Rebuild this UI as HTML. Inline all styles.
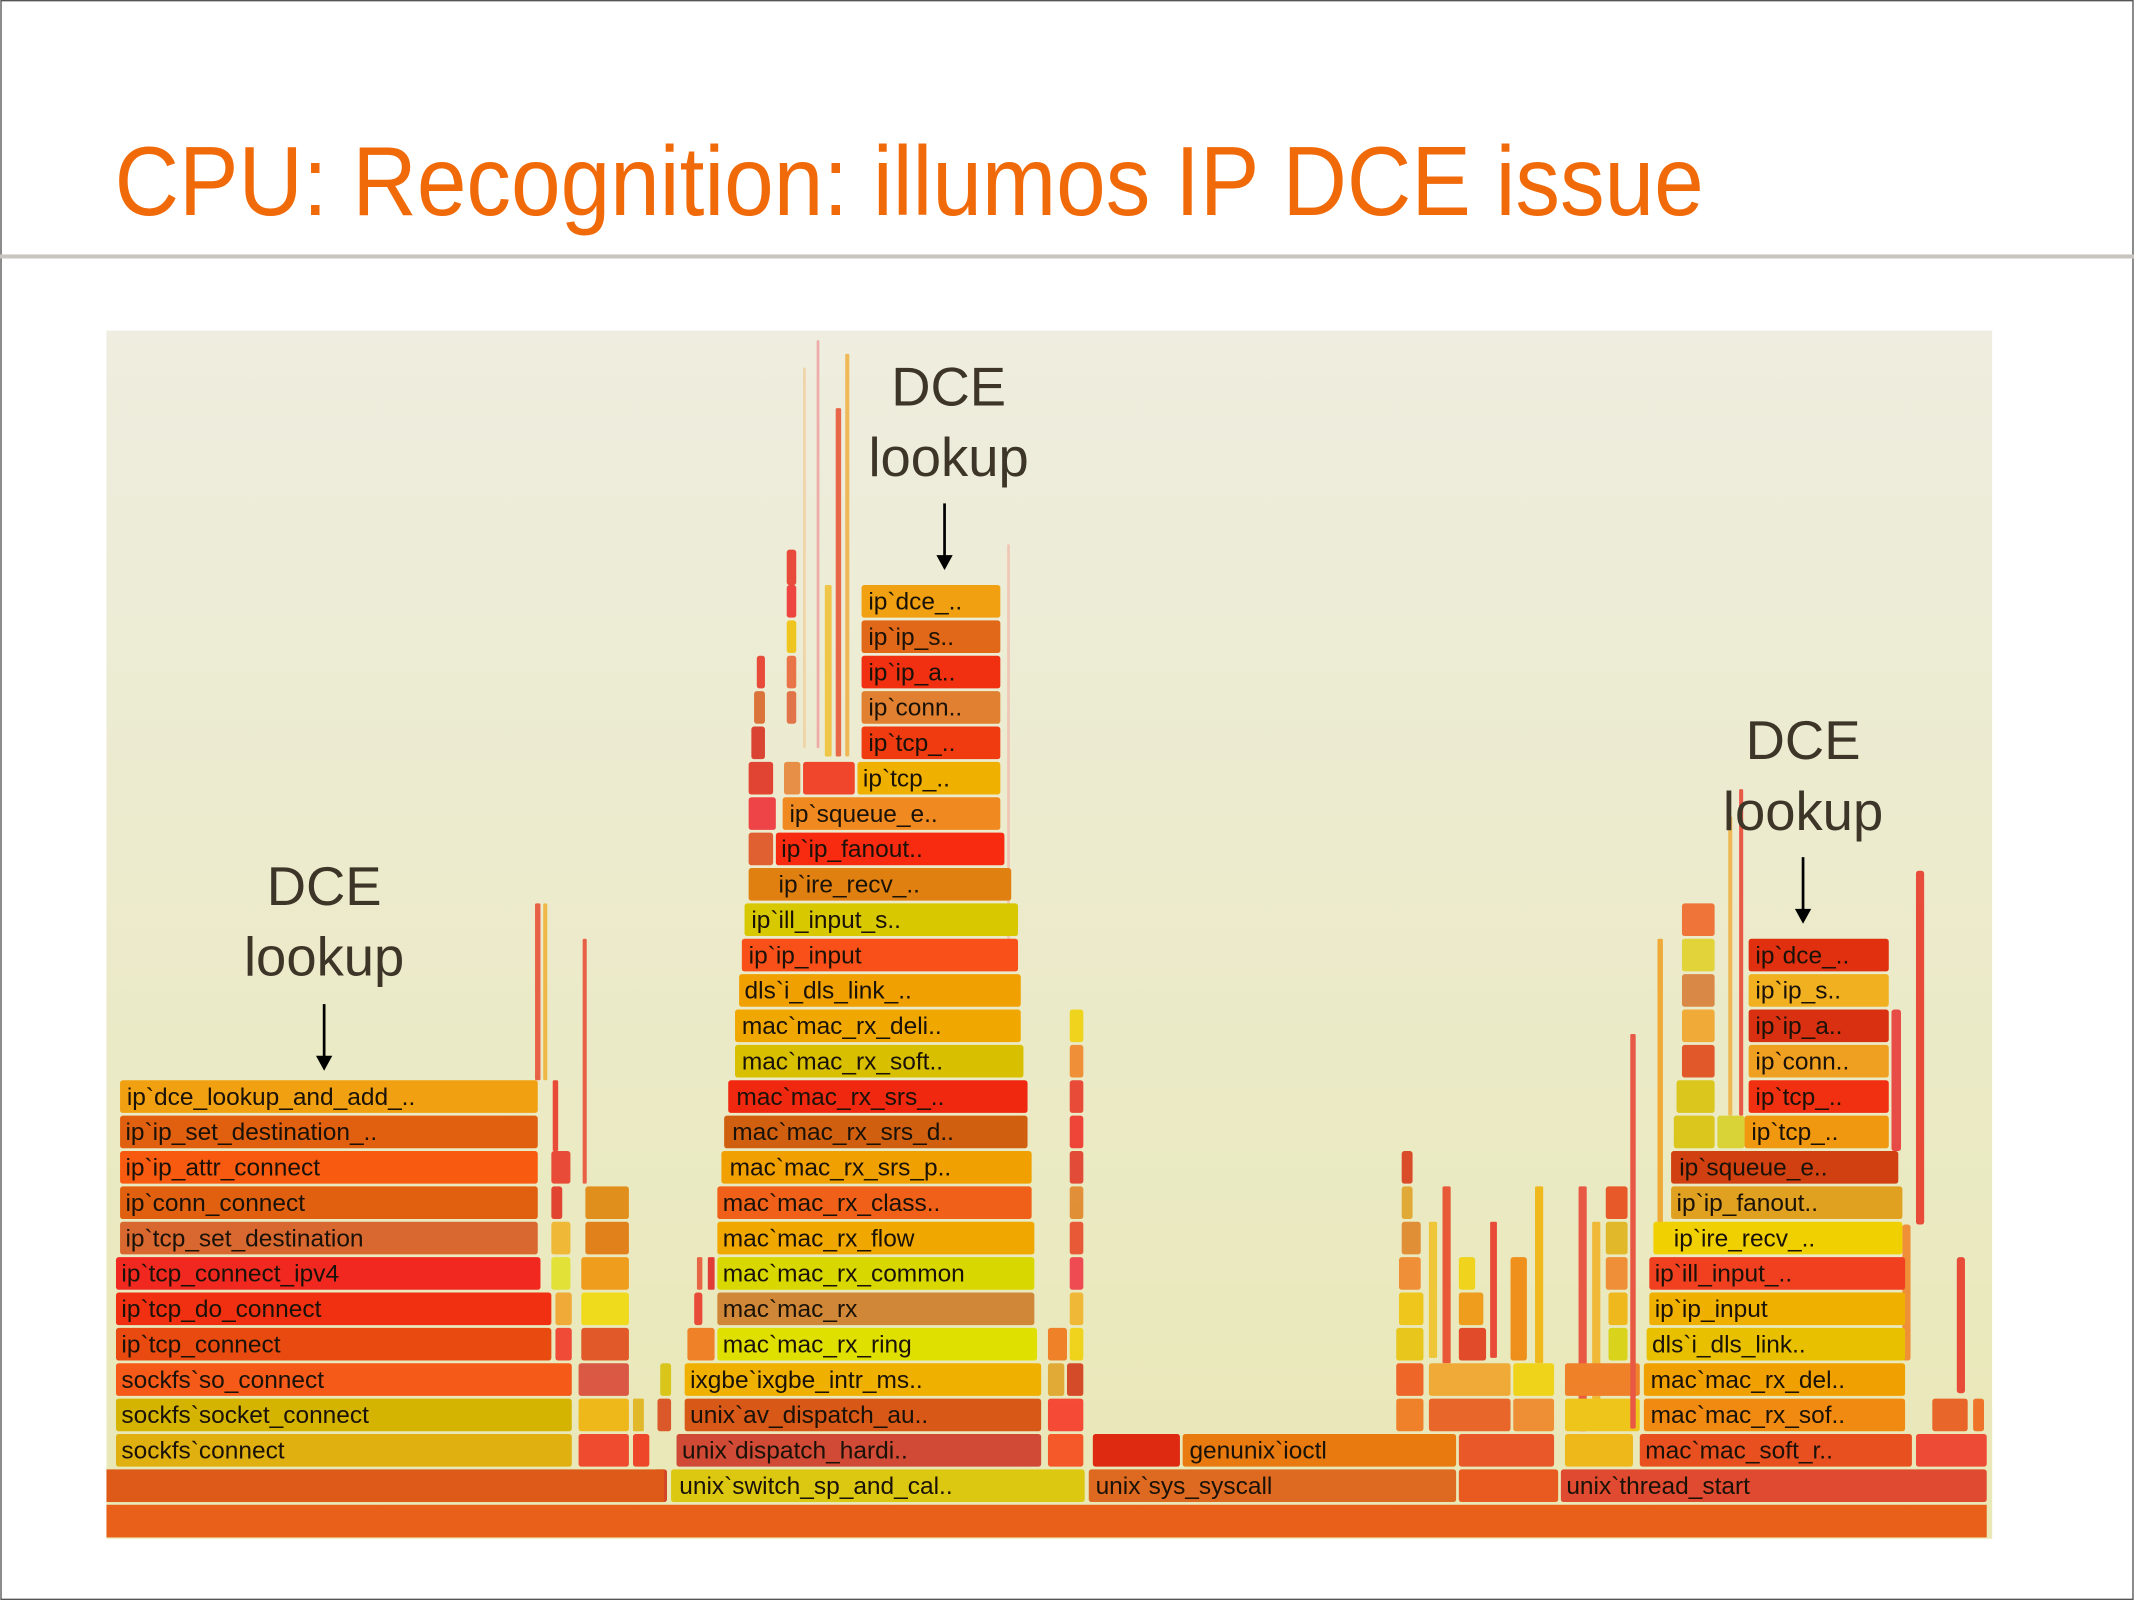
<!DOCTYPE html>
<html><head><meta charset="utf-8"><style>
html,body{margin:0;padding:0;background:#fff;}
svg{display:block;}
.f{font-family:"Liberation Sans",sans-serif;font-size:18px;fill:#1a1208;}
.a{font-family:"Liberation Sans",sans-serif;font-size:40px;fill:#3d3628;text-anchor:middle;}
</style></head><body>
<svg width="2134" height="1600" viewBox="0 0 1568 1176" xmlns="http://www.w3.org/2000/svg">
<defs>
<linearGradient id="bg" x1="0" y1="0" x2="0" y2="1">
<stop offset="0" stop-color="#eeeddf"/><stop offset="1" stop-color="#e9e8b6"/>
</linearGradient>
</defs>
<rect x="0.5" y="0.5" width="1567" height="1175" fill="#fff" stroke="#555" stroke-width="1"/>
<text x="84" y="158" font-family="Liberation Sans,sans-serif" font-size="72" fill="#f06a0a" textLength="1168" lengthAdjust="spacingAndGlyphs">CPU: Recognition: illumos IP DCE issue</text>
<rect x="0" y="187" width="1568" height="3" fill="#c8c4bf"/>
<rect x="78" y="243" width="1386" height="888" fill="url(#bg)"/>

<!-- slivers -->
<g opacity="0.85">
<rect x="393" y="664" width="4" height="130" fill="#e84a30" rx="1"/>
<rect x="399" y="664" width="3" height="130" fill="#f0b030" rx="1"/>
<rect x="428" y="690" width="3" height="180" fill="#e84a30" rx="1"/>
<rect x="406" y="794" width="4" height="52" fill="#e83020" rx="1"/>
<rect x="578" y="404" width="7" height="26" fill="#e83020" rx="2"/>
<rect x="578" y="430" width="7" height="24" fill="#f02828" rx="2"/>
<rect x="578" y="456" width="7" height="24" fill="#f0c000" rx="2"/>
<rect x="578" y="482" width="7" height="24" fill="#e86030" rx="2"/>
<rect x="578" y="508" width="7" height="24" fill="#e06030" rx="2"/>
<rect x="556" y="482" width="6" height="24" fill="#e83020" rx="2"/>
<rect x="554" y="508" width="8" height="24" fill="#d86020" rx="2"/>
<rect x="552" y="534" width="10" height="24" fill="#d82818" rx="2"/>
<rect x="550" y="560" width="18" height="24" fill="#e02818" rx="2"/>
<rect x="550" y="586" width="20" height="24" fill="#f02830" rx="2"/>
<rect x="550" y="612" width="18" height="24" fill="#e04818" rx="2"/>
<rect x="576" y="560" width="12" height="24" fill="#e88030" rx="2"/>
<rect x="590" y="560" width="38" height="24" fill="#f02a10" rx="2"/>
<rect x="606" y="430" width="5" height="126" fill="#f0c030" rx="1"/>
<rect x="614" y="300" width="4" height="256" fill="#e85030" rx="1"/>
<rect x="621" y="260" width="3" height="296" fill="#f0b040" rx="1"/>
<rect x="600" y="250" width="2" height="300" fill="#f0a0a0" rx="1"/>
<rect x="590" y="270" width="2" height="280" fill="#f0d0a0" rx="1"/>
<rect x="740" y="400" width="2" height="300" fill="#f0c0b0" rx="1"/>
<rect x="786" y="742" width="10" height="24" fill="#f0d000" rx="2"/>
<rect x="786" y="768" width="10" height="24" fill="#f08020" rx="2"/>
<rect x="786" y="794" width="10" height="24" fill="#e83020" rx="2"/>
<rect x="786" y="820" width="10" height="24" fill="#f02820" rx="2"/>
<rect x="786" y="846" width="10" height="24" fill="#e03020" rx="2"/>
<rect x="786" y="872" width="10" height="24" fill="#e08020" rx="2"/>
<rect x="786" y="898" width="10" height="24" fill="#e84020" rx="2"/>
<rect x="786" y="924" width="10" height="24" fill="#f03040" rx="2"/>
<rect x="786" y="950" width="10" height="24" fill="#f0b020" rx="2"/>
<rect x="786" y="976" width="10" height="24" fill="#f0d000" rx="2"/>
<rect x="770" y="976" width="14" height="24" fill="#f07010" rx="2"/>
<rect x="784" y="1002" width="12" height="24" fill="#d03010" rx="2"/>
<rect x="770" y="1002" width="12" height="24" fill="#e0a020" rx="2"/>
<rect x="770" y="1028" width="26" height="24" fill="#f83020" rx="2"/>
<rect x="770" y="1054" width="26" height="24" fill="#f84010" rx="2"/>
<rect x="505" y="976" width="20" height="24" fill="#f07010" rx="2"/>
<rect x="510" y="950" width="6" height="24" fill="#e83020" rx="2"/>
<rect x="512" y="924" width="4" height="24" fill="#e85030" rx="1"/>
<rect x="520" y="924" width="5" height="24" fill="#e02020" rx="1"/>
<rect x="485" y="1002" width="8" height="24" fill="#d8c000" rx="2"/>
<rect x="483" y="1028" width="10" height="24" fill="#d84010" rx="2"/>
<rect x="480" y="1080" width="10" height="24" fill="#d02810" rx="2"/>
<rect x="465" y="1028" width="8" height="24" fill="#e0b010" rx="1"/>
<rect x="405" y="872" width="8" height="24" fill="#e02818" rx="2"/>
<rect x="405" y="898" width="14" height="24" fill="#f0b020" rx="2"/>
<rect x="405" y="924" width="14" height="24" fill="#e0e020" rx="2"/>
<rect x="408" y="950" width="12" height="24" fill="#f0a020" rx="2"/>
<rect x="408" y="976" width="12" height="24" fill="#f03020" rx="2"/>
<rect x="405" y="846" width="14" height="24" fill="#e83020" rx="2"/>
<rect x="430" y="872" width="32" height="24" fill="#e08000" rx="2"/>
<!-- center low cluster -->
<rect x="1030" y="846" width="8" height="24" fill="#d83010" rx="2"/>
<rect x="1030" y="872" width="8" height="24" fill="#e0a020" rx="2"/>
<rect x="1030" y="898" width="14" height="24" fill="#e08020" rx="2"/>
<rect x="1028" y="924" width="16" height="24" fill="#f08020" rx="2"/>
<rect x="1028" y="950" width="18" height="24" fill="#f0c000" rx="2"/>
<rect x="1026" y="976" width="20" height="24" fill="#e8c000" rx="2"/>
<rect x="1026" y="1002" width="20" height="24" fill="#f05010" rx="2"/>
<rect x="1026" y="1028" width="20" height="24" fill="#f07010" rx="2"/>
<rect x="1050" y="898" width="6" height="100" fill="#f0c020" rx="1"/>
<rect x="1060" y="872" width="6" height="130" fill="#e84020" rx="1"/>
<rect x="1072" y="924" width="12" height="24" fill="#f0d000" rx="2"/>
<rect x="1072" y="950" width="18" height="24" fill="#f09000" rx="2"/>
<rect x="1072" y="976" width="20" height="24" fill="#e03010" rx="2"/>
<rect x="1050" y="1002" width="60" height="24" fill="#f0a020" rx="2"/>
<rect x="1050" y="1028" width="60" height="24" fill="#e85010" rx="2"/>
<rect x="1072" y="1054" width="70" height="24" fill="#e84010" rx="2"/>
<rect x="1095" y="898" width="5" height="100" fill="#e83020" rx="1"/>
<rect x="1110" y="924" width="12" height="76" fill="#f08000" rx="2"/>
<rect x="1128" y="872" width="6" height="130" fill="#f0b000" rx="1"/>
<rect x="1112" y="1002" width="30" height="24" fill="#f0d000" rx="2"/>
<rect x="1112" y="1028" width="30" height="24" fill="#f08020" rx="2"/>
<!-- right cluster -->
<rect x="1160" y="872" width="6" height="180" fill="#e84030" rx="1"/>
<rect x="1170" y="898" width="6" height="150" fill="#f0b020" rx="1"/>
<rect x="1180" y="872" width="16" height="24" fill="#e84010" rx="2"/>
<rect x="1180" y="898" width="16" height="24" fill="#e0b010" rx="2"/>
<rect x="1180" y="924" width="16" height="24" fill="#f08020" rx="2"/>
<rect x="1182" y="950" width="14" height="24" fill="#f0b000" rx="2"/>
<rect x="1182" y="976" width="14" height="24" fill="#d8d000" rx="2"/>
<rect x="1150" y="1002" width="55" height="24" fill="#f07010" rx="2"/>
<rect x="1150" y="1028" width="55" height="24" fill="#f0c000" rx="2"/>
<rect x="1150" y="1054" width="50" height="24" fill="#f0b000" rx="2"/>
<rect x="1198" y="760" width="4" height="290" fill="#e84030" rx="1"/>
<rect x="1218" y="690" width="4" height="230" fill="#f0a020" rx="1"/>
<rect x="1236" y="664" width="24" height="24" fill="#f06020" rx="2"/>
<rect x="1236" y="690" width="24" height="24" fill="#e0d020" rx="2"/>
<rect x="1236" y="716" width="24" height="24" fill="#d87830" rx="2"/>
<rect x="1236" y="742" width="24" height="24" fill="#f0a020" rx="2"/>
<rect x="1236" y="768" width="24" height="24" fill="#e04010" rx="2"/>
<rect x="1232" y="794" width="28" height="24" fill="#d8c000" rx="2"/>
<rect x="1230" y="820" width="30" height="24" fill="#d8c000" rx="2"/>
<rect x="1262" y="820" width="20" height="24" fill="#d8d020" rx="2"/>
<rect x="1270" y="600" width="3" height="220" fill="#f0b040" rx="1"/>
<rect x="1278" y="580" width="3" height="240" fill="#e84030" rx="1"/>
<rect x="1390" y="742" width="7" height="104" fill="#e83030" rx="2"/>
<rect x="1408" y="640" width="6" height="260" fill="#e83020" rx="2"/>
<rect x="1398" y="900" width="6" height="100" fill="#f08020" rx="2"/>
<rect x="1438" y="924" width="6" height="100" fill="#e83020" rx="2"/>
<rect x="1420" y="1028" width="26" height="24" fill="#e85010" rx="2"/>
<rect x="1408" y="1054" width="52" height="24" fill="#f03020" rx="2"/>
<rect x="1450" y="1028" width="8" height="24" fill="#f06010" rx="2"/>
<rect x="425" y="1054" width="37" height="24" fill="#f03018" rx="2"/>
<rect x="465" y="1054" width="12" height="24" fill="#f02a10" rx="2"/>
<rect x="425" y="1028" width="37" height="24" fill="#f0b000" rx="2"/>
<rect x="425" y="1002" width="37" height="24" fill="#d84030" rx="2"/>
<rect x="427" y="976" width="35" height="24" fill="#e04010" rx="2"/>
<rect x="427" y="950" width="35" height="24" fill="#f0d800" rx="2"/>
<rect x="427" y="924" width="35" height="24" fill="#f09000" rx="2"/>
<rect x="430" y="898" width="32" height="24" fill="#e07000" rx="2"/>
</g>

<!-- main frames -->
<g>
<rect x="78" y="1106" width="1382" height="24" fill="#e8601a"/>
<rect x="78" y="1080" width="410" height="24" fill="#dd5a18"/>
<rect x="493" y="1080" width="304" height="24" fill="#dcc810" rx="2"/><text class="f" x="499" y="1098">unix`switch_sp_and_cal..</text>
<rect x="800" y="1080" width="270" height="24" fill="#dd6a20" rx="2"/><text class="f" x="805" y="1098">unix`sys_syscall</text>
<rect x="1072" y="1080" width="73" height="24" fill="#e85a20" rx="2"/>
<rect x="1147" y="1080" width="313" height="24" fill="#e04a30" rx="2"/><text class="f" x="1151" y="1098">unix`thread_start</text>

<rect x="85" y="1054" width="335" height="24" fill="#e0b010" rx="2"/><text class="f" x="89" y="1072">sockfs`connect</text>
<rect x="497" y="1054" width="268" height="24" fill="#d04a35" rx="2"/><text class="f" x="501" y="1072">unix`dispatch_hardi..</text>
<rect x="803" y="1054" width="64" height="24" fill="#dd2a10" rx="2"/>
<rect x="869" y="1054" width="201" height="24" fill="#e87a10" rx="2"/><text class="f" x="874" y="1072">genunix`ioctl</text>
<rect x="1205" y="1054" width="200" height="24" fill="#e85020" rx="2"/><text class="f" x="1209" y="1072">mac`mac_soft_r..</text>

<rect x="85" y="1028" width="335" height="24" fill="#d4b400" rx="2"/><text class="f" x="89" y="1046">sockfs`socket_connect</text>
<rect x="503" y="1028" width="262" height="24" fill="#d85818" rx="2"/><text class="f" x="507" y="1046">unix`av_dispatch_au..</text>
<rect x="1208" y="1028" width="192" height="24" fill="#f08a10" rx="2"/><text class="f" x="1213" y="1046">mac`mac_rx_sof..</text>

<rect x="85" y="1002" width="335" height="24" fill="#f55a18" rx="2"/><text class="f" x="89" y="1020">sockfs`so_connect</text>
<rect x="503" y="1002" width="262" height="24" fill="#f0b000" rx="2"/><text class="f" x="507" y="1020">ixgbe`ixgbe_intr_ms..</text>
<rect x="1208" y="1002" width="192" height="24" fill="#f0a000" rx="2"/><text class="f" x="1213" y="1020">mac`mac_rx_del..</text>

<rect x="85" y="976" width="320" height="24" fill="#e84a10" rx="2"/><text class="f" x="89" y="994">ip`tcp_connect</text>
<rect x="527" y="976" width="235" height="24" fill="#e0e000" rx="2"/><text class="f" x="531" y="994">mac`mac_rx_ring</text>
<rect x="1210" y="976" width="190" height="24" fill="#e8c000" rx="2"/><text class="f" x="1214" y="994">dls`i_dls_link..</text>

<rect x="85" y="950" width="320" height="24" fill="#f03010" rx="2"/><text class="f" x="89" y="968">ip`tcp_do_connect</text>
<rect x="527" y="950" width="233" height="24" fill="#d08838" rx="2"/><text class="f" x="531" y="968">mac`mac_rx</text>
<rect x="1212" y="950" width="188" height="24" fill="#f0b000" rx="2"/><text class="f" x="1216" y="968">ip`ip_input</text>

<rect x="85" y="924" width="312" height="24" fill="#f02820" rx="2"/><text class="f" x="89" y="942">ip`tcp_connect_ipv4</text>
<rect x="527" y="924" width="233" height="24" fill="#d8d800" rx="2"/><text class="f" x="531" y="942">mac`mac_rx_common</text>
<rect x="1212" y="924" width="188" height="24" fill="#f04020" rx="2"/><text class="f" x="1216" y="942">ip`ill_input_..</text>

<rect x="88" y="898" width="307" height="24" fill="#d86830" rx="2"/><text class="f" x="92" y="916">ip`tcp_set_destination</text>
<rect x="527" y="898" width="233" height="24" fill="#f0a800" rx="2"/><text class="f" x="531" y="916">mac`mac_rx_flow</text>
<rect x="1215" y="898" width="183" height="24" fill="#f0d000" rx="2"/><text class="f" x="1230" y="916">ip`ire_recv_..</text>

<rect x="88" y="872" width="307" height="24" fill="#e06010" rx="2"/><text class="f" x="92" y="890">ip`conn_connect</text>
<rect x="527" y="872" width="231" height="24" fill="#f06018" rx="2"/><text class="f" x="531" y="890">mac`mac_rx_class..</text>
<rect x="1228" y="872" width="170" height="24" fill="#e0a020" rx="2"/><text class="f" x="1232" y="890">ip`ip_fanout..</text>

<rect x="88" y="846" width="307" height="24" fill="#f85a10" rx="2"/><text class="f" x="92" y="864">ip`ip_attr_connect</text>
<rect x="530" y="846" width="228" height="24" fill="#f0a000" rx="2"/><text class="f" x="536" y="864">mac`mac_rx_srs_p..</text>
<rect x="1228" y="846" width="167" height="24" fill="#d04010" rx="2"/><text class="f" x="1234" y="864">ip`squeue_e..</text>

<rect x="88" y="820" width="307" height="24" fill="#e06010" rx="2"/><text class="f" x="92" y="838">ip`ip_set_destination_..</text>
<rect x="532" y="820" width="223" height="24" fill="#d06010" rx="2"/><text class="f" x="538" y="838">mac`mac_rx_srs_d..</text>
<rect x="1282" y="820" width="106" height="24" fill="#f09810" rx="2"/><text class="f" x="1287" y="838">ip`tcp_..</text>

<rect x="88" y="794" width="307" height="24" fill="#f0a010" rx="2"/><text class="f" x="93" y="812">ip`dce_lookup_and_add_..</text>
<rect x="535" y="794" width="220" height="24" fill="#f02810" rx="2"/><text class="f" x="541" y="812">mac`mac_rx_srs_..</text>
<rect x="1285" y="794" width="103" height="24" fill="#f03010" rx="2"/><text class="f" x="1290" y="812">ip`tcp_..</text>

<rect x="540" y="768" width="212" height="24" fill="#d8c000" rx="2"/><text class="f" x="545" y="786">mac`mac_rx_soft..</text>
<rect x="1285" y="768" width="103" height="24" fill="#f0a020" rx="2"/><text class="f" x="1290" y="786">ip`conn..</text>

<rect x="540" y="742" width="210" height="24" fill="#f0a800" rx="2"/><text class="f" x="545" y="760">mac`mac_rx_deli..</text>
<rect x="1285" y="742" width="103" height="24" fill="#d83010" rx="2"/><text class="f" x="1290" y="760">ip`ip_a..</text>

<rect x="543" y="716" width="207" height="24" fill="#f0a000" rx="2"/><text class="f" x="547" y="734">dls`i_dls_link_..</text>
<rect x="1285" y="716" width="103" height="24" fill="#f0b020" rx="2"/><text class="f" x="1290" y="734">ip`ip_s..</text>

<rect x="545" y="690" width="203" height="24" fill="#f85018" rx="2"/><text class="f" x="550" y="708">ip`ip_input</text>
<rect x="1285" y="690" width="103" height="24" fill="#e03010" rx="2"/><text class="f" x="1290" y="708">ip`dce_..</text>

<rect x="547" y="664" width="201" height="24" fill="#d8c800" rx="2"/><text class="f" x="552" y="682">ip`ill_input_s..</text>
<rect x="550" y="638" width="193" height="24" fill="#e08010" rx="2"/><text class="f" x="572" y="656">ip`ire_recv_..</text>
<rect x="570" y="612" width="168" height="24" fill="#f82a10" rx="2"/><text class="f" x="574" y="630">ip`ip_fanout..</text>
<rect x="575" y="586" width="160" height="24" fill="#f08a20" rx="2"/><text class="f" x="580" y="604">ip`squeue_e..</text>
<rect x="630" y="560" width="105" height="24" fill="#f0b000" rx="2"/><text class="f" x="634" y="578">ip`tcp_..</text>
<rect x="633" y="534" width="102" height="24" fill="#f03a10" rx="2"/><text class="f" x="638" y="552">ip`tcp_..</text>
<rect x="633" y="508" width="102" height="24" fill="#e08030" rx="2"/><text class="f" x="638" y="526">ip`conn..</text>
<rect x="633" y="482" width="102" height="24" fill="#f03010" rx="2"/><text class="f" x="638" y="500">ip`ip_a..</text>
<rect x="633" y="456" width="102" height="24" fill="#e06818" rx="2"/><text class="f" x="638" y="474">ip`ip_s..</text>
<rect x="633" y="430" width="102" height="24" fill="#f0a010" rx="2"/><text class="f" x="638" y="448">ip`dce_..</text>
</g>

<!-- annotations -->
<text class="a" x="238" y="665">DCE</text><text class="a" x="238" y="717">lookup</text>
<line x1="238" y1="738" x2="238" y2="778" stroke="#000" stroke-width="2"/><path d="M232 776 L238 787 L244 776 Z" fill="#000"/>
<text class="a" x="697" y="298">DCE</text><text class="a" x="697" y="350">lookup</text>
<line x1="694" y1="370" x2="694" y2="410" stroke="#000" stroke-width="2"/><path d="M688 408 L694 419 L700 408 Z" fill="#000"/>
<text class="a" x="1325" y="558">DCE</text><text class="a" x="1325" y="610">lookup</text>
<line x1="1325" y1="630" x2="1325" y2="670" stroke="#000" stroke-width="2"/><path d="M1319 668 L1325 679 L1331 668 Z" fill="#000"/>
</svg>
</body></html>
